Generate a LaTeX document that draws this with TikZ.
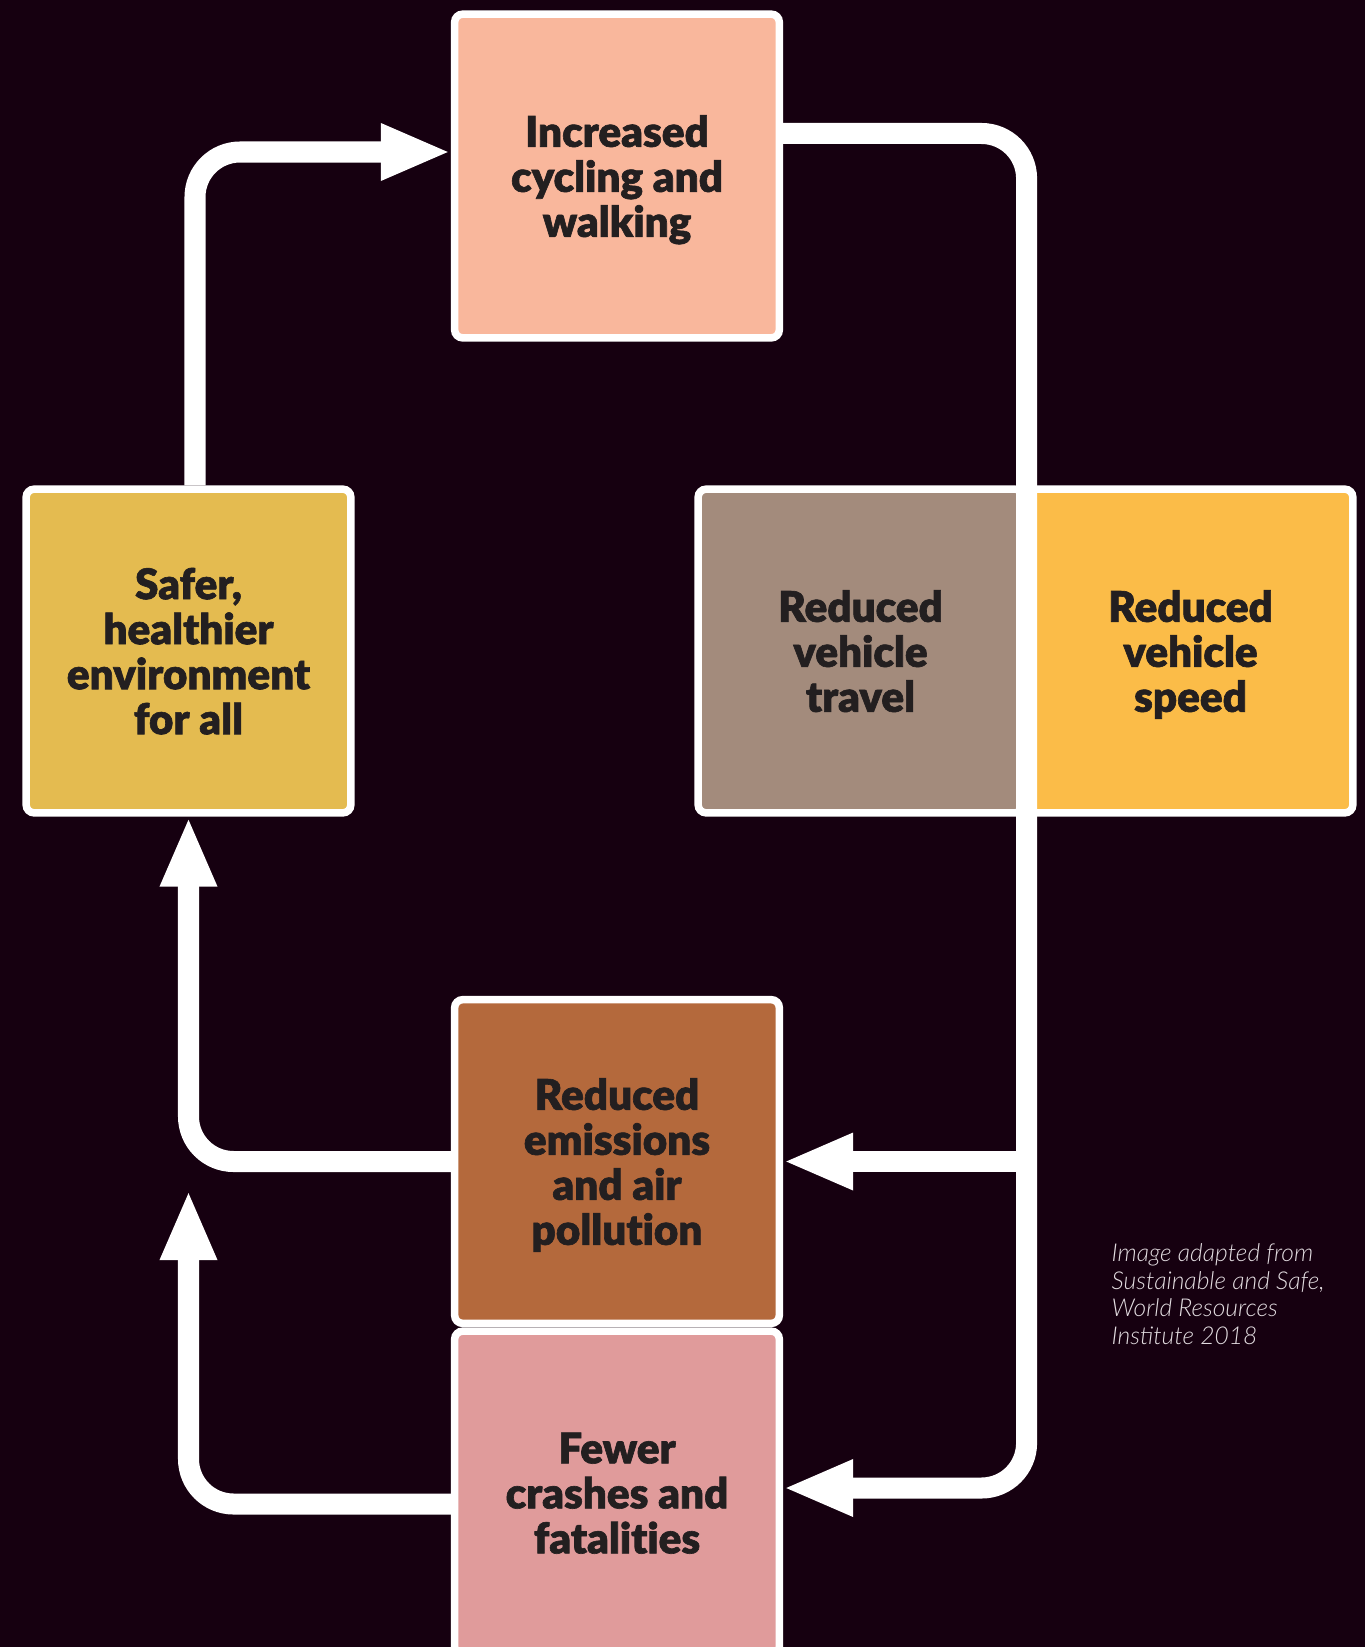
\documentclass[tikz,border=0pt]{standalone}
\usepackage{fontspec}
\setmainfont{Lato}
\newfontfamily\stagefont{Lato Black}[FakeBold=1.5, Ligatures=CommonOff]
\newfontfamily\notefont{Lato Light Italic}
\usetikzlibrary{arrows.meta}

\definecolor{bgplum}{HTML}{160010}
\definecolor{inkdark}{HTML}{231F20}
\definecolor{peach}{HTML}{F9B79C}
\definecolor{mustard}{HTML}{E4BB50}
\definecolor{taupe}{HTML}{A38B7C}
\definecolor{amber}{HTML}{FBBC48}
\definecolor{rust}{HTML}{B4693C}
\definecolor{rosepink}{HTML}{E09B9B}
\definecolor{notegrey}{HTML}{E2DCE0}

\tikzset{
  stage/.style={draw=white, line width=0.075cm, rounded corners=0.08cm,
    minimum width=3.245cm, minimum height=3.235cm, inner sep=0pt,
    align=center, text=inkdark, font=\stagefont\fontsize{12}{12.8}\selectfont,
    text depth=-0.74pt},
  flow/.style={draw=white, line width=0.21cm, rounded corners=0.45cm,
    -{Triangle[length=0.7cm,width=0.52cm]}},
  note/.style={text=notegrey, align=left, inner sep=0pt,
    font=\notefont\fontsize{7}{7.8}\selectfont},
}

\begin{document}
\begin{tikzpicture}[x=0.01cm, y=-0.01cm]
			%%%%% FRAME %%%%%
			\useasboundingbox (0, 0) rectangle (1365, 1647);
			\clip (0, 0) rectangle (1365, 1647);
			\fill[bgplum] (0, 0) rectangle (1365, 1647);
			
			%%%%% STAGES %%%%%
			\node[stage, fill=peach] (incr) at (617, 176) {Increased\\cycling and\\walking};
			\node[stage, fill=mustard] (safe) at (188.5, 651) {Safer,\\healthier\\environment\\for all};
			\node[stage, fill=taupe] (travel) at (860.5, 651) {Reduced\\vehicle\\travel};
			\node[stage, fill=amber] (speed) at (1190.5, 651) {Reduced\\vehicle\\speed};
			\node[stage, fill=rust] (emis) at (617, 1161.5) {Reduced\\emissions\\and air\\pollution};
			\node[stage, fill=rosepink] (fewer) at (617, 1493) {Fewer\\crashes and\\fatalities};
			
			\coordinate (loopend) at (188.5, 1190);
			
			%%%%% LOOP %%%%%
			\draw[flow] ([xshift=0.65mm]safe.north) |- ([yshift=2.4mm]incr.west);
			\draw[flow] ([yshift=4.25mm]incr.east) -| (travel.east) |- ([yshift=0.5mm]fewer.east);
			\draw[flow] (emis.east -| travel.east) -- (emis.east);
			\draw[flow] (emis.west) -| (safe.south);
			\draw[flow] ([yshift=-1.1mm]fewer.west) -| (loopend);
			
			%%%%% SOURCE %%%%%
			\node[note, anchor=west] (source) at (1111, 1294) {Image adapted from\\Sustainable and Safe,\\World Resources\\Institute 2018};
\end{tikzpicture}
\end{document}
